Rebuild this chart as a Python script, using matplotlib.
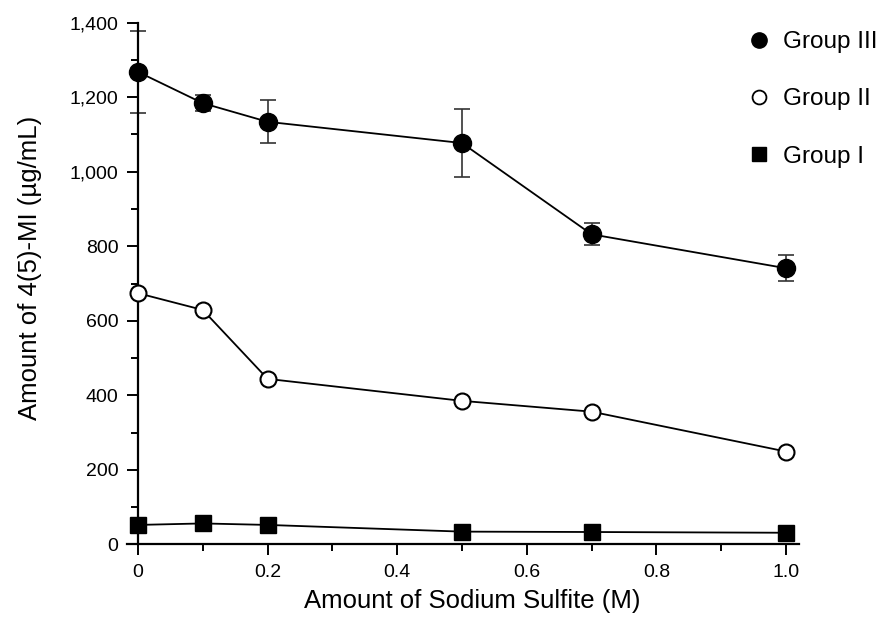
import matplotlib
matplotlib.use('Agg')
import matplotlib.pyplot as plt
from matplotlib.lines import Line2D
from matplotlib.ticker import MultipleLocator, FuncFormatter

plt.rcParams['font.family'] = ['Liberation Sans', 'DejaVu Sans']

# Sodium sulfite concentration (M)
sulfite = [0, 0.1, 0.2, 0.5, 0.7, 1.0]

# Amount of 4(5)-MI (ug/mL)
group_3 = [1268, 1184, 1134, 1077, 832, 741]
group_3_err = [110, 22, 58, 92, 30, 35]
group_2 = [674, 629, 444, 385, 356, 249]
group_1 = [52, 56, 52, 34, 33, 31]

x_ticks = [0, 0.2, 0.4, 0.6, 0.8, 1.0]
x_tick_labels = ['0', '0.2', '0.4', '0.6', '0.8', '1.0']
y_ticks = [0, 200, 400, 600, 800, 1000, 1200, 1400]

fig = plt.figure(figsize=(8.81, 6.23), dpi=100)
ax = fig.add_axes([127 / 881, 78.7 / 623, (799 - 127) / 881, (544.3 - 22.7) / 623])

ax.errorbar(sulfite, group_3, yerr=group_3_err, fmt='none', ecolor='#333333',
            elinewidth=1.2, capsize=5.5, capthick=1.2, zorder=2, clip_on=False)
ax.plot(sulfite, group_3, color='black', lw=1.3, marker='o', ms=13,
        mfc='black', mec='black', zorder=3, clip_on=False)
ax.plot(sulfite, group_2, color='black', lw=1.3, marker='o', ms=11.5,
        mfc='white', mec='black', mew=1.5, zorder=3, clip_on=False)
ax.plot(sulfite, group_1, color='black', lw=1.3, marker='s', ms=11.5,
        mfc='black', mec='black', zorder=3, clip_on=False)

ax.set_xlim(-11 / 648, 1 + 13 / 648)
ax.set_ylim(0, 1400)

for s in ['top', 'right']:
    ax.spines[s].set_visible(False)
ax.spines['left'].set_position(('data', 0))
ax.spines['left'].set_linewidth(1.6)
ax.spines['bottom'].set_linewidth(1.6)

ax.set_xticks(x_ticks)
ax.set_xticklabels(x_tick_labels)
ax.xaxis.set_minor_locator(MultipleLocator(0.1))
ax.set_yticks(y_ticks)
ax.yaxis.set_major_formatter(FuncFormatter(lambda v, p: f'{int(v):,}'))
ax.yaxis.set_minor_locator(MultipleLocator(100))

ax.tick_params(which='major', length=8, width=1.4, labelsize=14, color='black')
ax.tick_params(which='minor', length=5, width=1.4, color='black')
ax.tick_params(axis='y', which='major', pad=6)
ax.tick_params(axis='x', which='major', pad=6)

fig.text(472 / 881, 1 - 601 / 623, 'Amount of Sodium Sulfite (M)', fontsize=18.5,
         ha='center', va='center')
fig.text(30 / 881, 1 - 268 / 623, 'Amount of 4(5)-MI (\u00b5g/mL)', fontsize=18.5,
         ha='center', va='center', rotation=90)

handles = [
    Line2D([], [], ls='none', marker='o', ms=11, mfc='black', mec='black'),
    Line2D([], [], ls='none', marker='o', ms=10, mfc='white', mec='black', mew=1.3),
    Line2D([], [], ls='none', marker='s', ms=10, mfc='black', mec='black'),
]
fig.legend(handles, ['Group III', 'Group II', 'Group I'], loc='upper left',
           bbox_to_anchor=(747 / 881, 1 - 31 / 623), frameon=False, fontsize=17.5,
           handlelength=1.0, handletextpad=0.5, labelspacing=1.45,
           borderpad=0, borderaxespad=0)

fig.savefig('out.png', dpi=100)
